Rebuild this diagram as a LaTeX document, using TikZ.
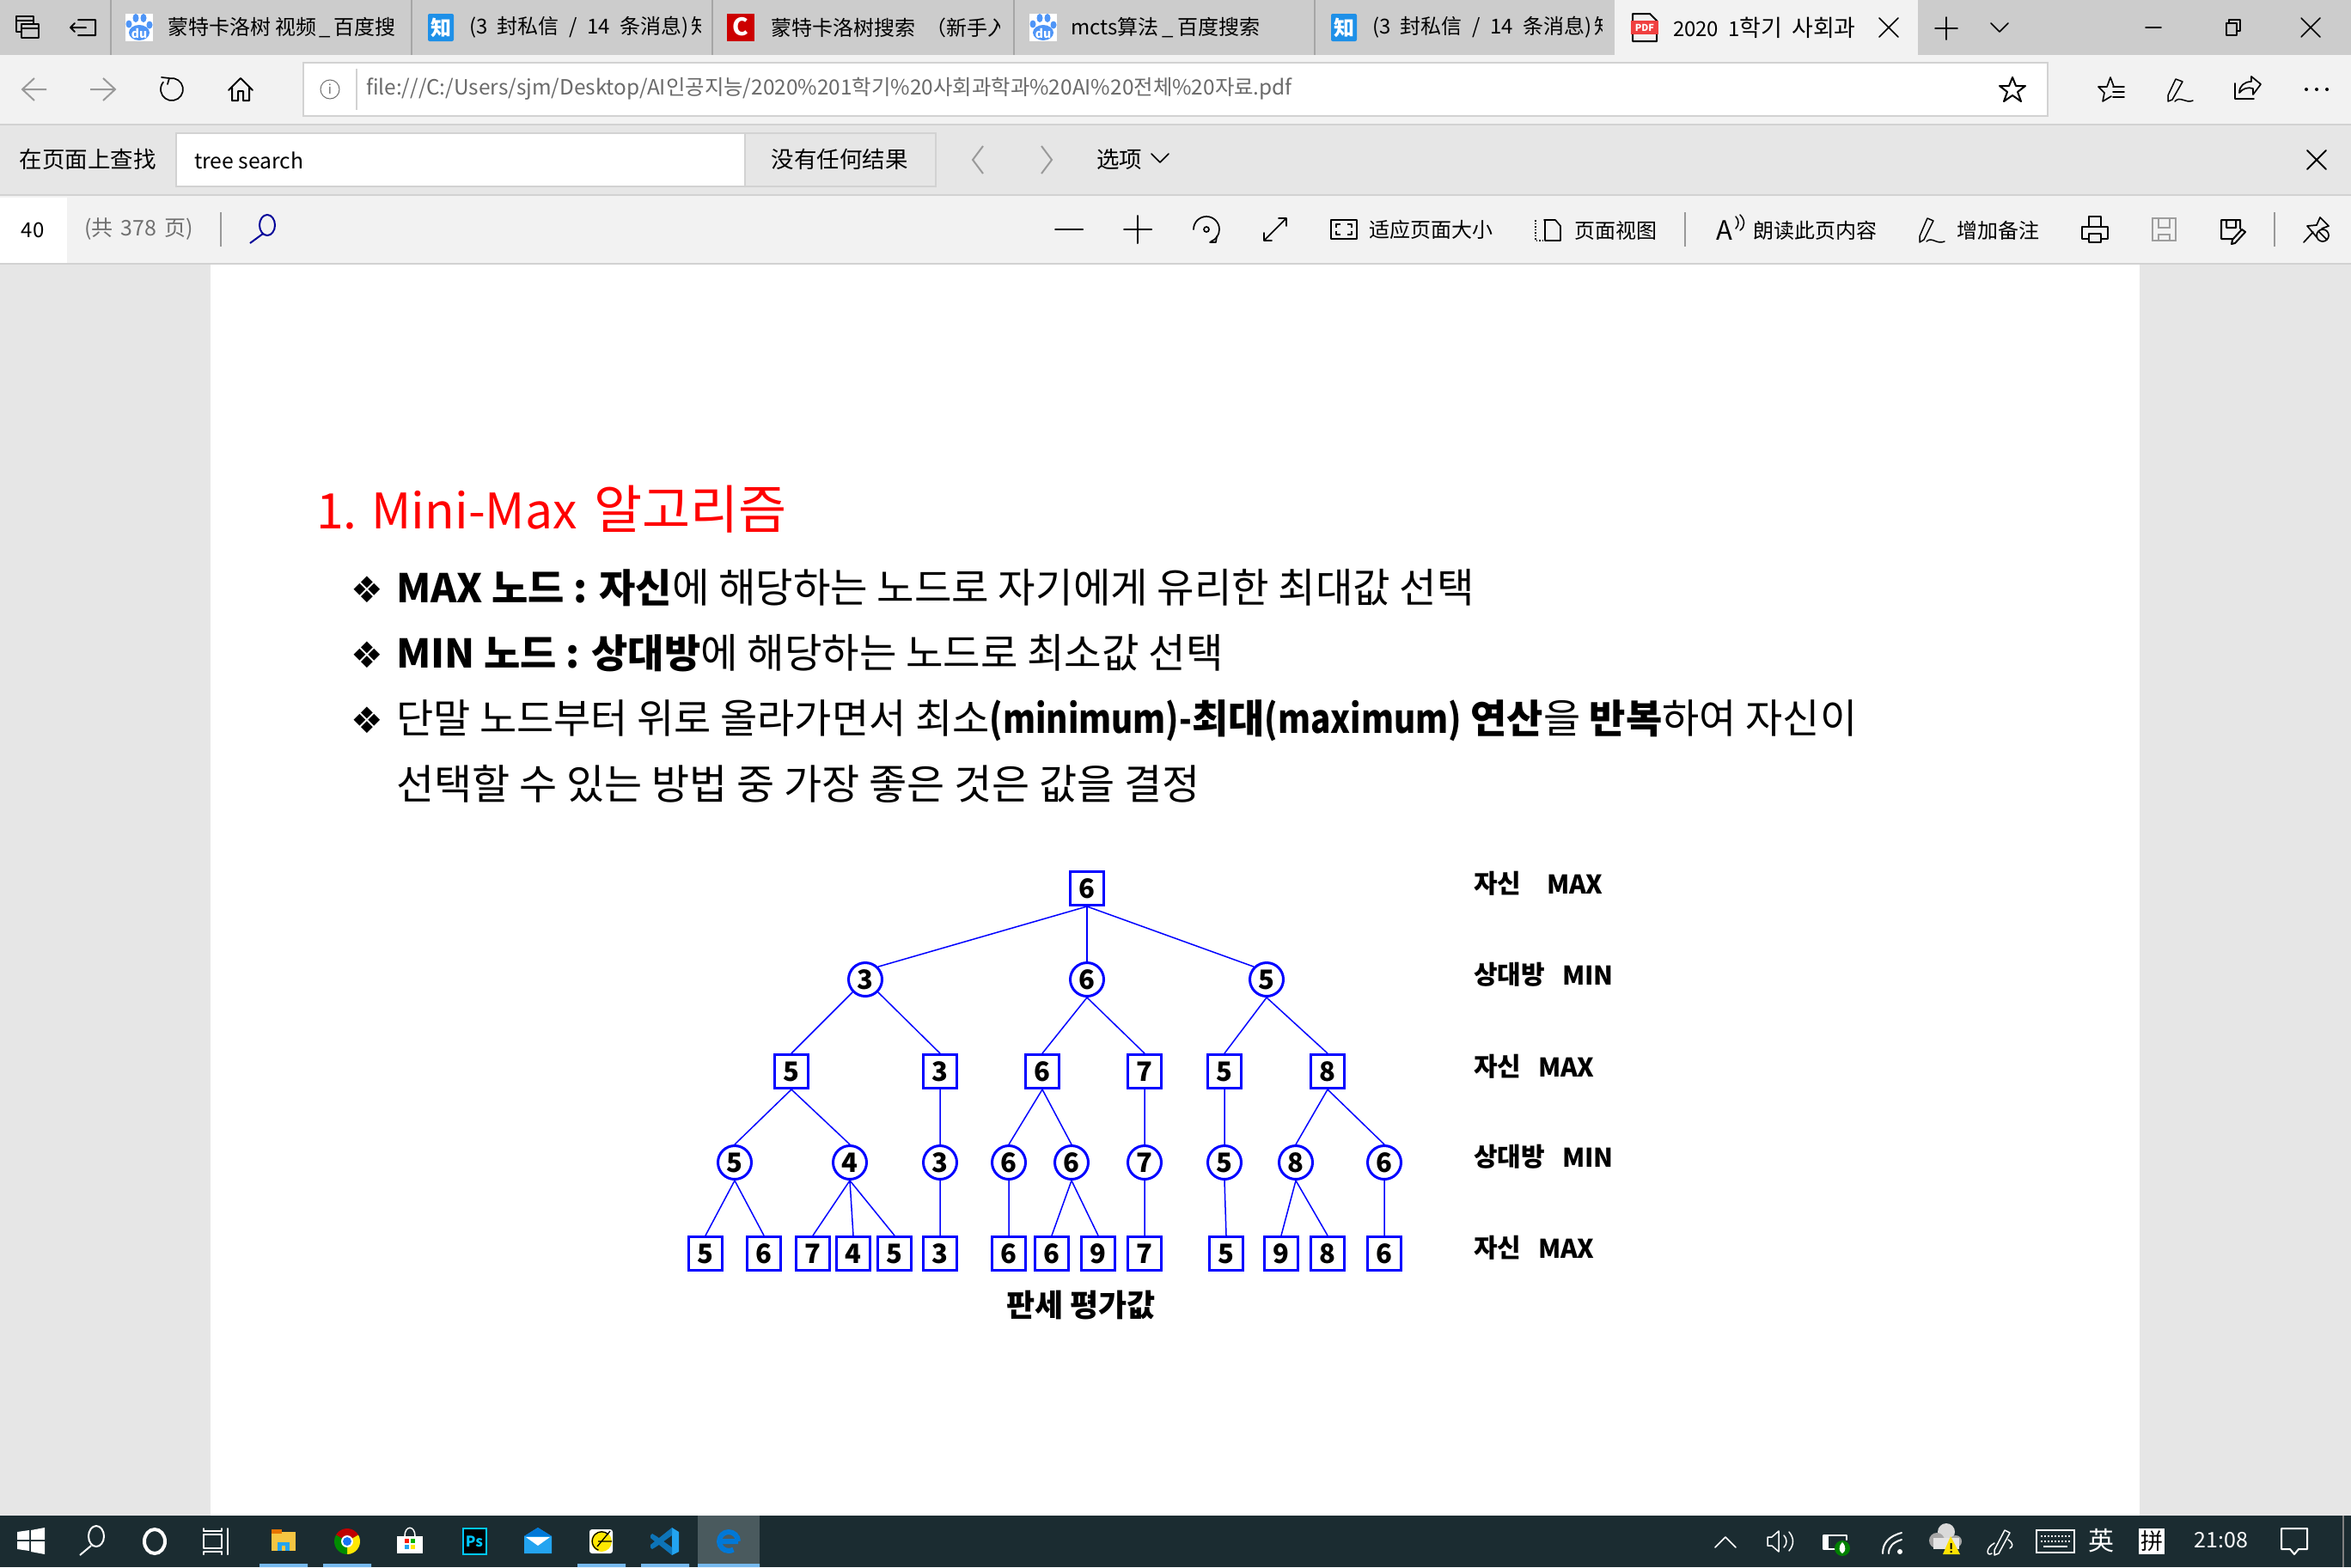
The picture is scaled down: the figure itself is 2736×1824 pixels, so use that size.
\documentclass[tikz,border=0pt]{standalone}
\usepackage{fontspec}
\setmainfont{Noto Sans CJK KR}
\newfontfamily\zhfont{Noto Sans CJK SC}
\newfontfamily\dejafont{DejaVu Sans}
\newfontfamily\latst[FakeStretch=0.84]{Noto Sans CJK KR}
\newcommand{\fsz}[1]{\fontsize{#1}{#1}\selectfont}
\newcommand{\bdt}[1]{{\bfseries\fsz{46}#1}}
\definecolor{tabbar}{HTML}{CCCCCC}
\definecolor{toolbg}{HTML}{F2F2F2}
\definecolor{findbg}{HTML}{E6E6E6}
\definecolor{rulec}{HTML}{D2D2D2}
\definecolor{taskbg}{HTML}{1B2C31}
\definecolor{taskhi}{HTML}{4A5A5E}
\definecolor{taskul}{HTML}{76B9ED}
\definecolor{greytxt}{HTML}{707070}
\definecolor{navgrey}{HTML}{999999}
\definecolor{urltxt}{HTML}{6A6A6A}
\definecolor{zhiblue}{HTML}{1E90E8}
\definecolor{pawblue}{HTML}{4E95F7}
\definecolor{pdfred}{HTML}{F04040}
\definecolor{treeblue}{RGB}{0,0,255}
\definecolor{edgeblue}{HTML}{0078D7}
\definecolor{vsdark}{HTML}{0D74B8}
\definecolor{vslight}{HTML}{23A4F0}
\definecolor{psblue}{HTML}{00C8FF}
\definecolor{folderyl}{HTML}{F5C542}
\tikzset{
 x=1pt,y=-1pt,
 txt/.style={anchor=west,inner sep=0pt,outer sep=0pt,font=\zhfont\fsz{24}},
 ctxt/.style={anchor=center,inner sep=0pt,outer sep=0pt,font=\zhfont\fsz{24}},
 body/.style={anchor=base west,inner sep=0pt,outer sep=0pt,font=\fsz{47.3}},
 lvl/.style={anchor=west,inner sep=0pt,outer sep=0pt,font=\bfseries\fsz{30}},
 bxn/.style={draw=treeblue,line width=3pt,fill=white,rectangle,minimum size=39pt,inner sep=0pt,font=\bfseries\fsz{31}},
 crn/.style={draw=treeblue,line width=3pt,fill=white,circle,minimum size=39pt,inner sep=0pt,font=\bfseries\fsz{31}},
 edge/.style={draw=treeblue,line width=1.5pt},
 icon/.style={draw=black,line width=2pt,line cap=round,line join=round},
 tic/.style={draw=white,line width=2pt,line cap=round,line join=round},
}
\newcommand{\pawicon}[3]{\begin{scope}[shift={(#2,#3)}]
 \fill[white] (-16,-16) rectangle (16,16);
 \fill[pawblue] (-12,-4) ellipse (3.5 and 4.5) (-4,-11) ellipse (3.5 and 5) (5,-11) ellipse (3.5 and 5) (12,-3) ellipse (3.5 and 4.5);
 \fill[pawblue] (0,6) ellipse (12 and 9);
 \node[ctxt,text=white,font=\bfseries\fsz{14}] (#1) at (0,7) {du};
\end{scope}}
\newcommand{\zhiicon}[3]{\begin{scope}[shift={(#2,#3)}]
 \fill[zhiblue,rounded corners=2pt] (-15,-16) rectangle (15,16);
 \node[ctxt,text=white,font=\zhfont\bfseries\fsz{24}] (#1) at (0,0) {知};
\end{scope}}
\newcommand{\xmark}[3]{\draw[#3] (#1-11,#2-11) -- (#1+11,#2+11) (#1+11,#2-11) -- (#1-11,#2+11);}
\begin{document}
\begin{tikzpicture}
\useasboundingbox (0,0) rectangle (2736,1824);
% backgrounds
\fill[findbg] (0,0) rectangle (2736,1824);
\fill[white] (245,308) rectangle (2490,1764);
\fill[tabbar] (0,0) rectangle (2736,64);
\fill[toolbg] (0,64) rectangle (2736,144);
\fill[rulec] (0,144) rectangle (2736,146);
\fill[findbg] (0,146) rectangle (2736,226);
\fill[rulec] (0,226) rectangle (2736,228);
\fill[toolbg] (0,228) rectangle (2736,306);
\fill[rulec] (0,306) rectangle (2736,308);
\fill[taskbg] (0,1764) rectangle (2736,1824);
% tabs
\fill[toolbg] (1879,0) rectangle (2232,64);
\foreach \sx in {129,479,829,1180,1530} \draw[color=black!35,line width=1.2pt] (\sx,0) -- (\sx,64);
\draw[icon] (25,28) rectangle (45,44) (25,33) -- (45,33) (25,37) -- (19,37) -- (19,19) -- (39,19) -- (39,28) (19,24) -- (39,24);
\draw[icon] (91,23) -- (111,23) -- (111,41) -- (91,41) (82,32) -- (100,32) (87,27) -- (82,32) -- (87,37);
\pawicon{du1}{162}{32}
\begin{scope}\clip (190,0) rectangle (462,64);
\node[txt] (t1) at (195,32) {蒙特卡洛树 视频\hspace{3pt}\_\hspace{4pt}百度搜};\end{scope}
\zhiicon{z1}{513}{32}
\begin{scope}\clip (540,0) rectangle (815,64);
\node[txt] (t2) at (546,32) {\spaceskip=11.5pt (3 封私信 / 14 条消息)\hspace{3pt}知};\end{scope}
\fill[red!80!black] (846,16) rectangle (878,48);
\node[ctxt,text=white,font=\bfseries\fsz{28}] (c1x) at (862,31) {C};
\begin{scope}\clip (890,0) rectangle (1163,64);
\node[txt] (t3) at (897,32) {蒙特卡洛树搜索\hspace{12pt}（新手入};\end{scope}
\pawicon{du2}{1214}{32}
\node[txt] (t4) at (1246,32) {mcts算法\hspace{4pt}\_\hspace{5pt}百度搜索};
\zhiicon{z2}{1564}{32}
\begin{scope}\clip (1590,0) rectangle (1864,64);
\node[txt] (t5) at (1597,32) {\spaceskip=11.5pt (3 封私信 / 14 条消息)\hspace{3pt}知};\end{scope}
\draw[icon] (1900,48) -- (1900,16) -- (1920,16) -- (1928,24) -- (1928,48) -- cycle;
\fill[pdfred] (1898,24) rectangle (1930,40);
\node[ctxt,text=white,font=\bfseries\fsz{11}] (pdfi) at (1914,32) {PDF};
\begin{scope}\clip (1940,0) rectangle (2166,64);
\node[txt,font=\fsz{24}] (t6) at (1947,32) {\spaceskip=11pt 2020 1{\fsz{27}학기 사회과}};\end{scope}
\xmark{2198}{32}{icon,line width=1.5pt}
\draw[icon,line width=1.5pt] (2265,20) -- (2265,46) (2252,33) -- (2278,33);
\draw[icon,line width=1.5pt] (2317,27) -- (2327,37) -- (2337,27);
\draw[icon,line width=1.5pt] (2497,32) -- (2515,32);
\draw[icon,line width=1.5pt] (2591,27) rectangle (2603,41) (2594,27) -- (2594,23) -- (2607,23) -- (2607,36) -- (2603,36);
\xmark{2689}{32}{icon,line width=1.5pt}
% address row
\draw[navgrey,line width=2pt] (26,104) -- (54,104) (40,91) -- (26,104) -- (40,117);
\draw[navgrey,line width=2pt] (105,104) -- (134,104) (120,91) -- (134,104) -- (120,117);
\draw[icon,line width=1.7pt] (197.7,91.2) arc[start angle=-100,end angle=220,radius=13];
\draw[icon,line width=1.7pt] (188,90) -- (197,91) -- (195,98);
\draw[icon] (266,105) -- (280,91) -- (294,105) (270,102) -- (270,117) -- (277,117) -- (277,106) -- (283,106) -- (283,117) -- (290,117) -- (290,102);
\draw[rulec,fill=white,line width=2pt] (353,73) rectangle (2383,135);
\draw[greytxt,line width=1pt] (384,104) circle (11);
\node[ctxt,text=greytxt,font=\fsz{15}] (inf) at (384,104) {i};
\draw[rulec,line width=1.5pt] (415,80) -- (415,128);
\node[txt,text=urltxt,font=\fsz{24.4}] (url) at (426,103) {file:///C:/Users/sjm/Desktop/AI인공지능/2020\%201학기\%20사회과학과\%20AI\%20전체\%20자료.pdf};
\draw[icon,line width=2pt] (2342,90) -- (2346,100) -- (2357,100) -- (2348,107) -- (2352,118) -- (2342,111) -- (2332,118) -- (2336,107) -- (2327,100) -- (2338,100) -- cycle;
\draw[icon,line width=1.6pt] (2442,101) -- (2452,101) -- (2456,90) -- (2460,101) (2442,101) -- (2449,108) -- (2447,118) -- (2457,112) (2459,101) -- (2472,101) (2459,107) -- (2472,107) (2459,113) -- (2472,113);
\draw[icon,line width=1.5pt] (2532,92) -- (2540,95) -- (2528,116) -- (2523,118) -- (2523,111) -- cycle (2531,118) .. controls (2537,111) and (2544,121) .. (2552,117);
\draw[icon,line width=1.7pt] (2601,97) -- (2601,115) -- (2623,115) (2606,108) .. controls (2606,100) and (2612,95) .. (2620,95) -- (2620,89) -- (2631,98) -- (2622,110) -- (2622,103) .. controls (2616,101) and (2610,103) .. (2606,108);
\foreach \dx in {2684,2696,2708} \fill[black] (\dx,104) circle (2);
% find row
\node[txt,font=\zhfont\fsz{26.5}] (fnd) at (23,185) {在页面上查找};
\draw[rulec,fill=white,line width=2pt] (205,155) rectangle (867,217);
\draw[rulec,fill=findbg,line width=2pt] (867,155) rectangle (1089,217);
\node[txt,font=\fsz{24.7}] (ts) at (226,187) {tree search};
\node[ctxt,font=\zhfont\fsz{26.5}] (nores) at (977,185) {没有任何结果};
\draw[navgrey,line width=2pt] (1144,170) -- (1132,186) -- (1144,202);
\draw[navgrey,line width=2pt] (1212,170) -- (1224,186) -- (1212,202);
\node[txt,font=\zhfont\fsz{26.5}] (opt) at (1276,185) {选项};
\draw[icon,line width=1.5pt] (1340,179) -- (1350,189) -- (1360,179);
\xmark{2696}{186}{icon,line width=2pt}
% pdf toolbar
\fill[white] (0,230) rectangle (78,306);
\node[ctxt,font=\fsz{24}] (pg) at (38,268) {40};
\node[txt,text=greytxt,font=\zhfont\fsz{25}] (tot) at (98,267) {\spaceskip=9pt (共 378 页)};
\draw[navgrey,line width=2pt] (257,247) -- (257,287);
\draw[blue!60!black,line width=2pt] (311,262) circle (9 and 12);
\draw[blue!60!black,line width=2pt] (306,272) -- (291,283);
\draw[icon,line width=2pt] (1228,267) -- (1260,267) (1308,267) -- (1340,267) (1324,251) -- (1324,283);
\draw[icon,line width=1.7pt] (1389,267) arc[start angle=180,end angle=430,radius=15];
\draw[icon,line width=1.7pt] (1408,282) -- (1415,282) -- (1416,275);
\draw[black,line width=1.7pt] (1404,267) circle (3);
\draw[icon,line width=1.7pt] (1471,280) -- (1497,254) (1488,254) -- (1497,254) -- (1497,263) (1471,271) -- (1471,280) -- (1480,280);
\draw[icon,line width=2.6pt,line cap=butt] (1549,256) rectangle (1579,278);
\draw[icon,line width=1.7pt,line cap=butt] (1555,265) -- (1555,261) -- (1560,261) (1573,265) -- (1573,261) -- (1568,261) (1555,269) -- (1555,273) -- (1560,273) (1573,269) -- (1573,273) -- (1568,273);
\node[txt] (fit) at (1593,267) {适应页面大小};
\draw[black,line width=1.5pt,dotted] (1787,256) -- (1787,280) -- (1797,280);
\draw[icon,line width=1.7pt] (1797,256) -- (1810,256) -- (1816,263) -- (1816,280) -- (1798,280) -- (1798,256);
\node[txt] (pgv) at (1832,268) {页面视图};
\draw[navgrey,line width=2pt] (1961,247) -- (1961,287);
\node[ctxt,font=\fsz{31}] (aa) at (2007,268) {A};
\draw[icon,line width=1.5pt] (2020,252) .. controls (2024,256) and (2024,262) .. (2020,266) (2025,250) .. controls (2031,256) and (2031,264) .. (2025,268);
\node[txt] (rd) at (2040,268) {朗读此页内容};
\draw[icon,line width=1.5pt] (2243,254) -- (2250,257) -- (2239,279) -- (2234,282) -- (2234,275) -- cycle (2242,281) .. controls (2248,275) and (2254,285) .. (2263,281);
\node[txt] (nt) at (2277,268) {增加备注};
\draw[icon,line cap=butt] (2431,264) -- (2431,252) -- (2445,252) -- (2445,264) (2431,278) -- (2423,278) -- (2423,264) -- (2453,264) -- (2453,278) -- (2445,278) (2431,272) rectangle (2445,282);
\draw[black!38,line width=2pt] (2505,254) rectangle (2532,280) (2512,254) rectangle (2525,265) (2512,273) rectangle (2525,280);
\draw[icon,line width=2pt] (2599,278) -- (2585,278) -- (2585,256) -- (2607,256) -- (2607,266) (2591,256) -- (2591,265) -- (2602,265) -- (2602,256) (2613,270) -- (2601,283) -- (2597,284) -- (2598,279) -- (2609,267) -- cycle;
\draw[navgrey,line width=2pt] (2647,247) -- (2647,287);
\draw[icon,line width=1.7pt] (2681,282) -- (2692,270) (2685,263) -- (2696,262) -- (2700,253) -- (2710,263) -- (2702,266) (2685,263) -- (2696,276);
\draw[icon,line width=1.7pt] (2703,274) circle (7) (2698,269) -- (2708,279);
% page text
\node[anchor=base west,inner sep=0pt,text=red,font=\fsz{57}] (title) at (368,615) {1. Mini-Max\hspace{7pt} {\fsz{61}알고리즘}};
\foreach \by/\bn in {701/ba,777/bb,853/bc} \node[anchor=base,inner sep=0pt,font=\dejafont\bfseries\fsz{42}] (\bn) at (427,\by) {❖};
\node[body] (l1) at (461,701) {\bdt{MAX 노드 : 자신}에 해당하는 노드로 자기에게 유리한 최대값 선택};
\node[body] (l2) at (461,777) {\bdt{MIN 노드 : 상대방}에 해당하는 노드로 최소값 선택};
\node[body,font=\fsz{47}] (l3) at (461,853) {단말 노드부터 위로 올라가면서 최소{\latst\bfseries\fsz{46}(minimum)-}\bdt{최대}{\latst\bfseries\fsz{46}(maximum)} \bdt{연산}을 \bdt{반복}하여 자신이};
\node[body,font=\fsz{48}] (l4) at (461,930) {선택할 수 있는 방법 중 가장 좋은 것은 값을 결정};
% tree
\node[bxn] (root) at (1265,1034) {6};
\node[crn] (a1) at (1007,1140) {3};
\node[crn] (a2) at (1265,1140) {6};
\node[crn] (a3) at (1474,1140) {5};
\node[bxn] (b1) at (921,1247) {5};
\node[bxn] (b2) at (1094,1247) {3};
\node[bxn] (b3) at (1213,1247) {6};
\node[bxn] (b4) at (1332,1247) {7};
\node[bxn] (b5) at (1425,1247) {5};
\node[bxn] (b6) at (1545,1247) {8};
\node[crn] (c1) at (855,1353) {5};
\node[crn] (c2) at (989,1353) {4};
\node[crn] (c3) at (1094,1353) {3};
\node[crn] (c4) at (1174,1353) {6};
\node[crn] (c5) at (1247,1353) {6};
\node[crn] (c6) at (1332,1353) {7};
\node[crn] (c7) at (1425,1353) {5};
\node[crn] (c8) at (1508,1353) {8};
\node[crn] (c9) at (1611,1353) {6};
\foreach \nm/\xx/\vv in {d1/821/5,d2/889/6,d3/946/7,d4/993/4,d5/1041/5,d6/1094/3,d7/1174/6,d8/1224/6,d9/1278/9,d10/1332/7,d11/1427/5,d12/1491/9,d13/1545/8,d14/1611/6}
 \node[bxn] (\nm) at (\xx,1459) {\vv};
\path[edge] (root.south) -- (a1.45) (root.south) -- (a3.135);
\path[edge,line width=2.7pt] (root.south) -- (a2.north);
\path[edge] (a1.-135) -- (b1.north) (a1.-45) -- (b2.north) (a2.south) -- (b3.north) (a2.south) -- (b4.north) (a3.south) -- (b5.north) (a3.south) -- (b6.north);
\path[edge] (b1.south) -- (c1.north) (b1.south) -- (c2.north) (b2.south) -- (c3.north) (b3.south) -- (c4.north) (b3.south) -- (c5.north) (b4.south) -- (c6.north) (b5.south) -- (c7.north) (b6.south) -- (c8.north) (b6.south) -- (c9.north);
\path[edge] (c1.south) -- (d1.north) (c1.south) -- (d2.north) (c2.south) -- (d3.north) (c2.south) -- (d4.north) (c2.south) -- (d5.north) (c3.south) -- (d6.north) (c4.south) -- (d7.north) (c5.south) -- (d8.north) (c5.south) -- (d9.north) (c6.south) -- (d10.north) (c7.south) -- (d11.north) (c8.south) -- (d12.north) (c8.south) -- (d13.north) (c9.south) -- (d14.north);
\node[lvl] (r1a) at (1715,1028) {자신};
\node[lvl] (r1b) at (1800,1029) {MAX};
\node[lvl] (r2a) at (1715,1134) {상대방};
\node[lvl] (r2b) at (1818,1135) {MIN};
\node[lvl] (r3a) at (1715,1241) {자신};
\node[lvl] (r3b) at (1790,1242) {MAX};
\node[lvl] (r4a) at (1715,1346) {상대방};
\node[lvl] (r4b) at (1818,1347) {MIN};
\node[lvl] (r5a) at (1715,1452) {자신};
\node[lvl] (r5b) at (1790,1453) {MAX};
\node[ctxt,font=\bfseries\fsz{36}] (eval) at (1258,1519) {판세 평가값};
% taskbar
\fill[taskhi] (812,1764) rectangle (884,1824);
\fill[taskul] (302,1820) rectangle (358,1824) (376,1820) rectangle (432,1824) (672,1820) rectangle (728,1824) (746,1820) rectangle (802,1824) (812,1820) rectangle (884,1824);
\fill[white] (20,1783) -- (34,1781) -- (34,1792) -- (20,1792) -- cycle (36,1781) -- (52,1778) -- (52,1792) -- (36,1792) -- cycle (20,1794) -- (34,1794) -- (34,1805) -- (20,1803) -- cycle (36,1794) -- (52,1794) -- (52,1809) -- (36,1806) -- cycle;
\draw[white,line width=2pt] (112,1788) circle (9 and 12) (106,1799) -- (93,1810);
\draw[white,line width=4pt] (180,1794) circle (12 and 14);
\draw[tic] (237,1782) -- (258,1782) -- (258,1779) (237,1782) -- (237,1779) (237,1786) rectangle (258,1802) (237,1806) -- (258,1806) (237,1806) -- (237,1809) (258,1806) -- (258,1809) (265,1779) -- (265,1809);
\fill[folderyl] (316,1783) rectangle (344,1805);
\fill[orange!90!black] (316,1780) rectangle (328,1785);
\fill[vslight] (323,1795) rectangle (337,1805);
\fill[folderyl] (328,1799) rectangle (332,1805);
\foreach \ca/\cb/\cc in {-150/-30/red!75!black,-30/90/yellow!90!orange,90/210/green!55!black}
 \fill[\cc] (404,1794) -- ++(\ca:15) arc[start angle=\ca,end angle=\cb,radius=15] -- cycle;
\fill[white] (404,1794) circle (7);
\fill[vslight!70!blue] (404,1794) circle (5);
\fill[white] (462,1788) rectangle (492,1808);
\draw[white,line width=1.5pt] (471,1788) .. controls (471,1775) and (483,1775) .. (483,1788);
\fill[red!80!orange] (471,1791) rectangle (476,1796);
\fill[green!70!black] (478,1791) rectangle (483,1796);
\fill[vslight] (471,1798) rectangle (476,1803);
\fill[yellow!90!orange] (478,1798) rectangle (483,1803);
\fill[black] (539,1779) rectangle (566,1809);
\draw[psblue,line width=2pt] (539,1779) rectangle (566,1809);
\node[ctxt,text=psblue,font=\bfseries\fsz{17}] (psi) at (552,1794) {Ps};
\fill[vslight] (610,1788) -- (626,1778) -- (642,1788) -- (642,1808) -- (610,1808) -- cycle;
\fill[edgeblue] (610,1788) -- (626,1778) -- (642,1788) -- cycle;
\fill[white] (612,1789) -- (640,1789) -- (626,1799) -- cycle;
\fill[white,rounded corners=3pt] (686,1780) rectangle (713,1808);
\fill[yellow!90!orange] (700,1794) circle (12);
\draw[black,line width=1.3pt] (708,1786) arc[start angle=-45,end angle=-250,radius=11] (695,1800) -- (710,1782) (696,1794) -- (712,1794);
\fill[vslight] (782,1778) -- (790,1783) -- (790,1806) -- (782,1810) -- (782,1778);
\fill[vsdark] (782,1778) -- (782,1787) -- (764,1800) -- (759,1803) -- (757,1801) -- (757,1798) -- cycle;
\fill[vsdark] (782,1810) -- (782,1801) -- (764,1788) -- (759,1785) -- (757,1787) -- (757,1790) -- cycle;
\draw[edgeblue,line width=6pt] (859,1794) arc[start angle=0,end angle=-300,radius=11] (838,1794) -- (859,1794);
% tray
\draw[tic,line width=1.5pt] (1996,1801) -- (2008,1789) -- (2020,1801);
\draw[tic,line width=1.5pt] (2057,1789) -- (2062,1789) -- (2070,1782) -- (2070,1806) -- (2062,1799) -- (2057,1799) -- cycle (2076,1787) .. controls (2080,1791) and (2080,1797) .. (2076,1801) (2082,1783) .. controls (2088,1790) and (2088,1798) .. (2082,1805);
\draw[white,fill=white,line width=1pt] (2122,1787) rectangle (2127,1803);
\draw[tic] (2122,1787) -- (2149,1787) -- (2149,1792) (2122,1787) -- (2122,1803) -- (2135,1803);
\fill[green!50!black] (2144,1802) circle (9);
\fill[white] (2144,1795) .. controls (2149,1800) and (2148,1806) .. (2144,1808) .. controls (2140,1806) and (2139,1800) .. (2144,1795) -- cycle;
\draw[tic] (2191,1808) .. controls (2191,1796) and (2198,1788) .. (2213,1784) (2198,1808) .. controls (2198,1800) and (2203,1795) .. (2213,1792);
\fill[white] (2211,1806) circle (3);
\fill[white!85!black] (2265,1783) circle (10);
\fill[white!65!black] (2254,1793) circle (9) (2276,1794) circle (7);
\fill[white!90!black] (2250,1790) rectangle (2280,1803);
\fill[yellow!85!orange] (2270,1788) -- (2281,1809) -- (2261,1809) -- cycle;
\fill[black] (2269.5,1796) rectangle (2271.5,1803) (2269.5,1805) rectangle (2271.5,1807);
\draw[tic,line width=1.5pt] (2333,1781) -- (2339,1784) -- (2326,1808) -- (2321,1810) -- (2321,1804) -- cycle (2321,1796) .. controls (2310,1802) and (2312,1812) .. (2318,1808) (2337,1792) .. controls (2343,1796) and (2343,1800) .. (2339,1802);
\draw[white,line width=2pt] (2370,1781) rectangle (2414,1807);
\draw[white,line width=2pt,dotted] (2375,1788) -- (2410,1788) (2375,1794) -- (2410,1794);
\draw[white,line width=2pt] (2378,1800) -- (2406,1800);
\node[ctxt,text=white,font=\zhfont\fsz{30}] (ying) at (2445,1793) {英};
\fill[white] (2489,1779) rectangle (2519,1809);
\node[ctxt,text=black,font=\zhfont\fsz{26}] (pin) at (2504,1794) {拼};
\node[ctxt,text=white,font=\fsz{25}] (clock) at (2585,1793) {21:08};
\draw[tic] (2655,1779) -- (2685,1779) -- (2685,1803) -- (2675,1803) -- (2670,1809) -- (2665,1803) -- (2655,1803) -- cycle;
\draw[white!50!black,line width=1.5pt] (2727,1764) -- (2727,1824);
\end{tikzpicture}
\end{document}
